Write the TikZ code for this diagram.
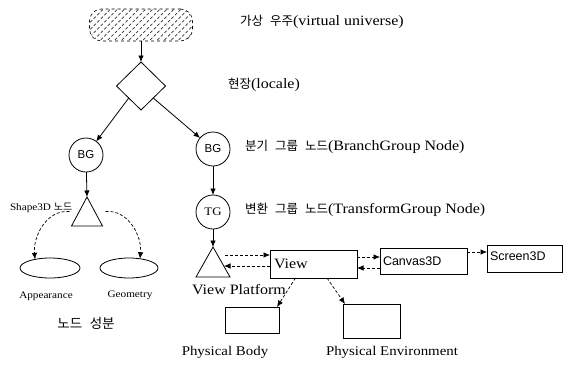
\documentclass[tikz,border=0pt]{standalone}
\usepackage{fontspec}
\setmainfont[FakeStretch=1.12]{Liberation Serif}
\newfontfamily\kr[WordSpace=2.5]{Noto Sans CJK KR}
\newfontfamily\sansf{Liberation Sans}
\usetikzlibrary{shapes.geometric,patterns.meta,arrows.meta}

\tikzset{
  every node/.style={inner sep=0pt, outer sep=0pt},
  tip/.style={-{Latex[length=6.5pt,width=5.5pt]}},
  solidarrow/.style={draw, line width=0.8pt, tip},
  dasharrow/.style={draw, line width=0.7pt, dash pattern=on 3pt off 2pt, tip},
  groupnode/.style={circle, draw, line width=0.8pt, minimum size=34pt, font=\fontsize{11.5}{12}\selectfont\sansf},
  compnode/.style={ellipse, draw, line width=0.8pt, minimum height=20pt},
  box/.style={rectangle, draw, line width=0.8pt},
  heading/.style={font=\fontsize{14.3}{16}\selectfont},
  caption/.style={font=\fontsize{13.3}{15}\selectfont},
  small/.style={font=\fontsize{10}{11}\selectfont},
}

\begin{document}
\begin{tikzpicture}[x=1pt, y=-1pt]
\useasboundingbox (0,0) rectangle (567,367);

% virtual universe
\node[rounded corners=12pt, draw, dashed, line width=0.6pt,
      pattern={Lines[angle=45, distance=5pt, line width=0.7pt]}, pattern color=black!80,
      minimum width=103pt, minimum height=32pt] (vu) at (141,25) {};
% locale
\node[diamond, draw, line width=0.8pt, minimum width=49pt, minimum height=48pt] (loc) at (141,86) {};

% group nodes
\node[groupnode] (bg1) at (86,155) {BG};
\node[groupnode] (bg2) at (213,149) {BG};
\node[groupnode, font=\fontsize{11.5}{12}\selectfont] (tg) at (213,212) {TG};

% leaf triangles (Shape3D and ViewPlatform)
\node[minimum width=31pt, minimum height=29pt] (tri1) at (87,211.5) {};
\draw[line width=0.8pt] (tri1.north) -- (tri1.south west) -- (tri1.south east) -- cycle;
\node[minimum width=34pt, minimum height=30pt] (tri2) at (213,262) {};
\draw[line width=0.8pt] (tri2.north) -- (tri2.south west) -- (tri2.south east) -- cycle;

% node components
\node[compnode, minimum width=60pt] (app) at (50,268) {};
\node[compnode, minimum width=58pt] (geo) at (129,268) {};

% view side objects
\node[box, minimum width=87pt, minimum height=28pt] (view) at (313.5,264) {};
\node[box, minimum width=87pt, minimum height=26pt] (canvas) at (423.5,261) {};
\node[box, minimum width=75pt, minimum height=27pt] (screen) at (524.5,258.5) {};
\node[box, minimum width=54pt, minimum height=26pt] (body) at (252,320) {};
\node[box, minimum width=57pt, minimum height=34pt] (env) at (371.5,321) {};

\node[anchor=west, heading] (viewtxt) at ([xshift=4pt]view.west) {View};
\node[anchor=west, font=\fontsize{12.5}{13}\selectfont\sansf] (canvastxt) at ([xshift=3pt]canvas.west) {Canvas3D};
\node[anchor=west, font=\fontsize{12.5}{13}\selectfont\sansf] (screentxt) at ([xshift=3pt,yshift=2pt]screen.west) {Screen3D};

% scene graph connectors
\draw[solidarrow] (vu) -- (loc.north);
\draw[solidarrow] (loc.south west) -- (bg1);
\draw[solidarrow] (loc.south east) -- (bg2);
\draw[solidarrow] (bg1) -- (tri1.north);
\draw[solidarrow] (bg2) -- (tg);
\draw[solidarrow] (tg) -- (tri2.north);

% component references
\draw[dasharrow] ([xshift=-2pt]tri1.west) to[out=175, in=95] (app.150);
\draw[dasharrow] ([xshift=3pt]tri1.east) to[out=5, in=85] (geo.40);

% view model references
\draw[dasharrow] ([xshift=-5pt,yshift=7pt]tri2.east) -- ([yshift=9pt]view.west);
\draw[dasharrow] ([yshift=-2pt]view.west) -- ([xshift=-6pt,yshift=-4pt]tri2.east);
\draw[dasharrow] ([yshift=7pt]view.east) -- ([yshift=4pt]canvas.west);
\draw[dasharrow] ([yshift=-7pt]canvas.west) -- ([yshift=-4pt]view.east);
\draw[dasharrow] ([yshift=9pt]canvas.east) -- ([yshift=6.5pt]screen.west);
\draw[dasharrow] ([xshift=-18pt]view.south) -- ([xshift=-2pt]body.north east);
\draw[dasharrow] ([xshift=13.5pt]view.south) -- ([xshift=2pt]env.north west);

% labels
\node[anchor=west, heading] (lvu) at (240,22) {{\kr\fontsize{12.5}{14}\selectfont 가상 우주}(virtual universe)};
\node[anchor=west, heading] (lloc) at (228,85) {{\kr\fontsize{12.5}{14}\selectfont 현장}(locale)};
\node[anchor=west, heading] (lbg) at (245,147) {{\kr\fontsize{12.5}{14}\selectfont 분기 그룹 노드}(BranchGroup Node)};
\node[anchor=west, heading] (ltg) at (245,210) {{\kr\fontsize{12.5}{14}\selectfont 변환 그룹 노드}(TransformGroup Node)};
\node[anchor=west, small] (lshape) at (10,208) {Shape3D {\kr\fontsize{10}{11}\selectfont 노드}};
\node[small] (lapp) at (46,296) {Appearance};
\node[small] (lgeo) at (130,295) {Geometry};
\node[font=\fontsize{13.5}{15}\selectfont\kr] (lcomp) at (86,323) {노드 성분};
\node[heading] (lvp) at (239,290) {View\hspace{4pt}Platform};
\node[caption] (lbody) at (225,352) {Physical Body};
\node[caption] (lenv) at (392,352) {Physical Environment};
\end{tikzpicture}
\end{document}
